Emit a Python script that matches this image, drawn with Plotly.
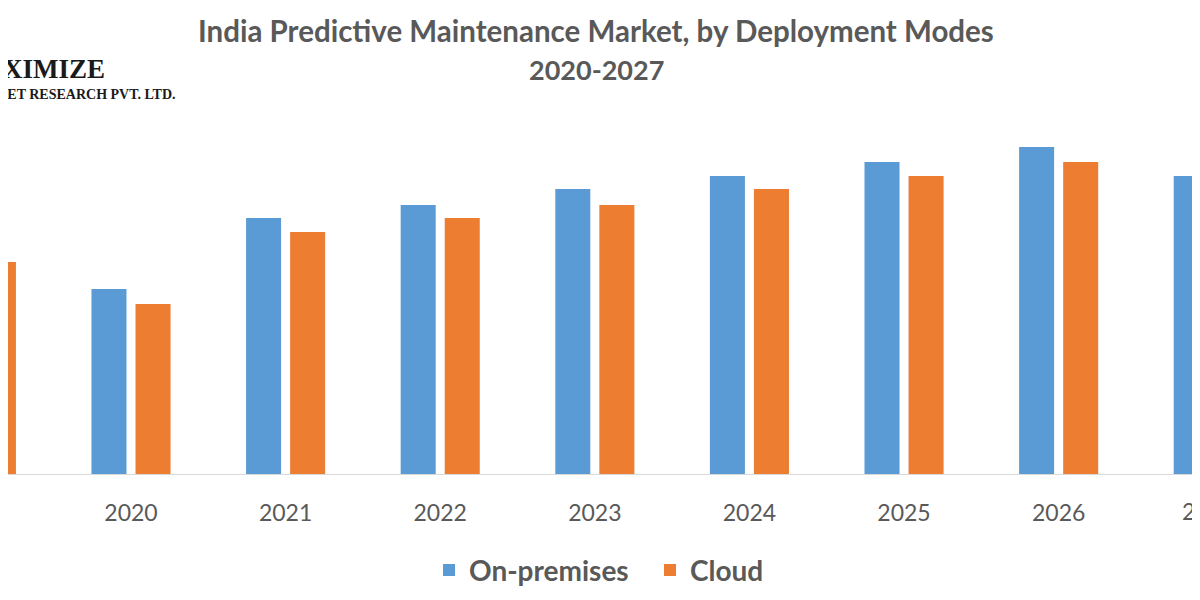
import plotly.graph_objects as go

years = ["2019", "2020", "2021", "2022", "2023", "2024", "2025", "2026", "2027"]
on_premises = [19.8, 18.5, 25.6, 26.9, 28.5, 29.8, 31.2, 32.7, 29.8]
cloud = [21.2, 17.0, 24.2, 25.6, 26.9, 28.5, 29.8, 31.2, 28.5]

title_line1 = "India Predictive Maintenance Market, by Deployment Modes"
title_line2 = "2020-2027"
logo_line1 = "MAXIMIZE"
logo_line2 = "MARKET RESEARCH PVT. LTD."

BLUE = "#5B9BD5"
ORANGE = "#ED7D31"
GRAY = "#595959"
FONT = "Lato"

x_range = [0.2044, 7.966]
PLOT_H = 350  # plot area height in px (used to place paper-ref texts)

fig = go.Figure()
fig.add_trace(go.Bar(name="On-premises", x=years, y=on_premises, marker_color=BLUE,
                     marker_line_width=0, hoverinfo="skip"))
fig.add_trace(go.Bar(name="Cloud", x=years, y=cloud, marker_color=ORANGE,
                     marker_line_width=0, hoverinfo="skip"))


def paper_x(idx):
    return (idx - x_range[0]) / (x_range[1] - x_range[0])


def paper_y(px_above_base):
    return px_above_base / PLOT_H


annotations = []
# partial edge labels (categories outside the visible range)
for idx, xs in ((0, 4), (len(years) - 1, -5)):
    annotations.append(dict(x=paper_x(idx), y=0, xref="paper", yref="y", text=years[idx],
                            showarrow=False, yshift=-37, xshift=xs,
                            xanchor="center", yanchor="middle",
                            font=dict(family=FONT, size=23, color=GRAY)))

# title (two lines)
annotations.append(dict(x=0.4904, y=paper_y(444), xref="paper", yref="paper",
                        xanchor="center", yanchor="middle", showarrow=False,
                        text="<b>" + title_line1 + "</b>",
                        font=dict(family=FONT, size=29.5, color=GRAY)))
annotations.append(dict(x=0.4904, y=paper_y(404), xref="paper", yref="paper",
                        xanchor="center", yanchor="middle", showarrow=False,
                        text="<b>" + title_line2 + "</b>",
                        font=dict(family=FONT, size=27, color=GRAY)))

# logo text (partly cut at the left edge)
annotations.append(dict(x=-0.0435, y=paper_y(405), xref="paper", yref="paper",
                        xanchor="left", yanchor="middle", showarrow=False,
                        text="<b>" + logo_line1 + "</b>",
                        font=dict(family="Liberation Serif", size=27, color="#1a1a1a")))
annotations.append(dict(x=-0.039, y=paper_y(380), xref="paper", yref="paper",
                        xanchor="left", yanchor="middle", showarrow=False,
                        text="<b>" + logo_line2 + "</b>",
                        font=dict(family="Liberation Serif", size=14, color="#1a1a1a")))

fig.update_layout(
    width=1200, height=600,
    margin=dict(l=0, r=0, t=116, b=134, autoexpand=False),
    paper_bgcolor="white", plot_bgcolor="white",
    barmode="group", bargap=0.43, bargroupgap=0.205,
    showlegend=True,
    legend=dict(orientation="h", x=0.535, xanchor="center", y=-0.275, yanchor="middle",
                font=dict(family=FONT, size=28, color=GRAY, weight="bold"),
                traceorder="normal", itemwidth=30, entrywidth=176, entrywidthmode="pixels"),
    xaxis=dict(range=x_range, showline=True, linecolor="#D9D9D9", linewidth=1,
               showgrid=False, zeroline=False, ticks="outside", ticklen=18,
               tickcolor="rgba(0,0,0,0)", automargin=False,
               tickfont=dict(family=FONT, size=23, color=GRAY)),
    yaxis=dict(range=[0, 35], visible=False, showgrid=False, zeroline=False, automargin=False),
    annotations=annotations,
)

fig.write_html("out.html")
